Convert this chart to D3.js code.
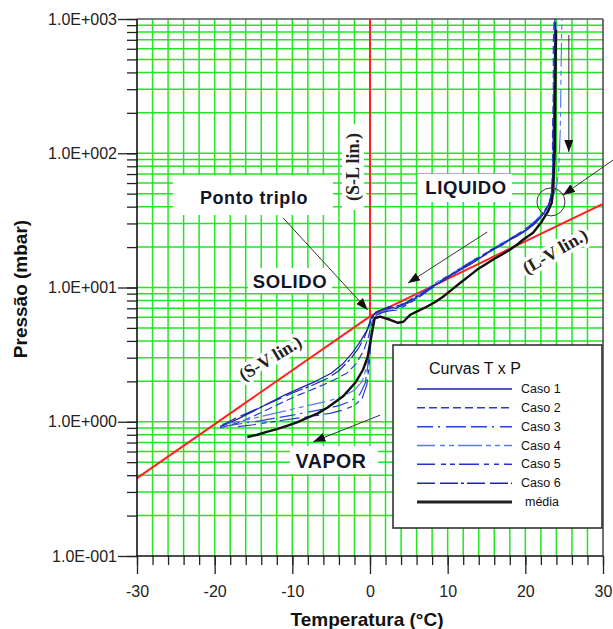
<!DOCTYPE html>
<html><head><meta charset="utf-8">
<script src="https://cdn.jsdelivr.net/npm/d3@7"></script>
<style>body{margin:0;background:#fff;overflow:hidden}</style>
</head><body><svg id="c" width="613" height="629"></svg>
<script>
// ---------- data ----------
const xMajor = [-30,-20,-10,0,10,20,30];
const xMajorLabels = ["-30","-20","-10","0","10","20","30"];
const yMajor = [0.1,1,10,100,1000];
const yMajorLabels = ["1.0E-001","1.0E+000","1.0E+001","1.0E+002","1.0E+003"];
const svLine = [[-30,0.38],[0,6.1]];
const lvLine = [[0,6.1],[30,42]];
const slLine = [[0,6.1],[0,1000]];

const caso1 = [[-19.0,0.93],[-17,1.05],[-15,1.2],[-13,1.38],[-11,1.58],[-9,1.78],[-7,2.0],[-5,2.3],[-3.5,2.7],[-2.2,3.3],[-1.2,4.0],[-0.4,4.8],[0.2,6.0],[0.8,6.6],[1.7,6.9],[2.5,7.2],[3.4,7.0],[4.2,7.5],[5.2,7.9],[6.2,8.6],[7.3,9.4],[8.4,10.5],[9.4,11.2],[10.5,12.4],[11.6,13.5],[12.7,14.6],[13.8,16.0],[14.8,17.6],[15.8,19.0],[17,20.8],[18,22.6],[19.2,24.6],[20.2,26.8],[21.2,29.8],[22.0,33.5],[22.7,38],[23.2,44],[23.5,55],[23.6,80],[23.6,150],[23.7,300],[23.8,600],[23.8,1000]];
const caso2 = [[-19.3,0.9],[-17,0.98],[-15,1.1],[-13,1.25],[-11,1.42],[-9,1.6],[-7,1.78],[-5,2.0],[-3,2.3],[-1.8,2.7],[-0.8,3.4],[-0.2,4.3],[0.3,5.6],[0.9,6.4],[2,6.7],[3,7.1],[4,7.3],[5,7.7],[6,8.5],[7,9.1],[8,10.2],[9,10.9],[10,12.0],[11,12.9],[12,14.0],[13,15.0],[14,16.4],[15,17.7],[16,19.4],[17,20.6],[18,22.8],[19,24.2],[20,26.6],[21,29.2],[21.8,32.5],[22.6,37],[23.1,43],[23.4,52],[23.5,75],[23.5,140],[23.6,300],[23.6,650],[23.7,1000]];
const caso3 = [[-18.5,0.93],[-16,0.98],[-14,1.02],[-12,1.07],[-10,1.12],[-8,1.18],[-6,1.24],[-4,1.32],[-2.5,1.42],[-1.3,1.6],[-0.6,1.95],[-0.2,2.8],[0.1,4.2],[0.4,5.6],[0.9,6.3],[1.8,6.6],[2.8,6.9],[3.8,7.2],[4.8,7.6],[5.8,8.2],[6.8,9.0],[7.8,9.8],[8.8,10.8],[9.8,11.8],[10.8,12.8],[11.8,13.9],[12.8,15.2],[13.8,16.4],[14.8,17.8],[15.8,19.3],[16.8,20.8],[17.8,22.4],[18.8,24.0],[19.8,26.2],[20.8,28.6],[21.7,32],[22.5,36.5],[23.1,42],[23.4,50],[23.6,70],[23.7,150],[23.8,400],[23.9,1000]];
const caso4 = [[-19,0.96],[-17,1.0],[-15,1.06],[-13,1.13],[-11,1.2],[-9,1.28],[-7,1.36],[-5,1.45],[-3.5,1.55],[-2,1.72],[-1,2.0],[-0.4,2.6],[0,3.8],[0.4,5.4],[1,6.4],[2,6.8],[3,7.0],[4,7.4],[5,8.0],[6,8.8],[7,9.4],[8,10.4],[9,11.4],[10,12.2],[11,13.2],[12,14.4],[13,15.6],[14,16.8],[15,18.2],[16,19.8],[17,21.4],[18,23.2],[19,25],[20,27.4],[21,30.4],[22,34.5],[22.9,40],[23.5,47],[24,56],[24.3,75],[24.5,150],[24.6,400],[24.7,1000]];
const caso5 = [[-17,0.92],[-15,0.95],[-13,0.99],[-11,1.03],[-9,1.07],[-7,1.11],[-5,1.16],[-3.5,1.22],[-2,1.32],[-1,1.5],[-0.4,1.9],[-0.1,2.7],[0.1,3.8],[0.3,5.0],[0.7,6.1],[1.5,6.5],[2.5,6.7],[3.5,6.8],[4.5,7.3],[5.5,7.9],[6.5,8.6],[7.5,9.5],[8.5,10.3],[9.5,11.4],[10.5,12.3],[11.5,13.4],[12.5,14.7],[13.5,15.8],[14.5,17.2],[15.5,18.6],[16.5,20.2],[17.5,21.8],[18.5,23.6],[19.5,25.6],[20.5,28],[21.4,31],[22.2,35],[22.9,41],[23.3,48],[23.5,65],[23.6,120],[23.7,350],[23.8,1000]];
const caso6 = [[-19.3,0.92],[-17.5,1.05],[-15.5,1.18],[-13.5,1.33],[-11.5,1.5],[-9.5,1.68],[-7.5,1.86],[-5.5,2.1],[-4,2.4],[-2.6,2.9],[-1.5,3.5],[-0.7,4.3],[0,5.4],[0.6,6.4],[1.5,6.8],[2.5,7.0],[3.5,7.3],[4.5,7.6],[5.5,8.3],[6.5,8.9],[7.5,9.8],[8.5,10.6],[9.5,11.6],[10.5,12.5],[11.5,13.7],[12.5,14.8],[13.5,16.2],[14.5,17.3],[15.5,18.9],[16.5,20.4],[17.5,22.0],[18.5,23.9],[19.5,25.9],[20.5,28.4],[21.4,31.4],[22.3,35.8],[23.0,41],[23.4,49],[23.6,68],[23.7,130],[23.8,350],[23.9,1000]];
const media = [[-15.8,0.77],[-14.5,0.8],[-13.3,0.84],[-12,0.88],[-10.7,0.93],[-9.4,0.99],[-8.1,1.07],[-6.8,1.15],[-5.5,1.27],[-3.5,1.54],[-1.9,1.95],[-0.9,2.44],[-0.3,3.05],[0.1,4.1],[0.4,5.1],[0.6,5.9],[1.3,6.06],[2.6,5.75],[3.6,5.46],[4.3,5.56],[5.2,6.27],[6.2,6.7],[7.3,7.19],[8.4,7.8],[9.4,8.54],[10.5,9.6],[11.6,10.8],[12.7,12.1],[13.8,13.6],[14.8,14.8],[15.8,16.1],[17,17.6],[18,19.1],[19,21],[19.7,22.7],[21,25.6],[22.1,30.9],[22.9,36.7],[23.4,42.8],[23.6,53.5],[23.7,79],[23.8,106],[23.85,250],[23.95,830]];

const seriesNames = ["Caso 1","Caso 2","Caso 3","Caso 4","Caso 5","Caso 6","média"];

// annotation arrows in data space [T, P]
const arrowFrom = [[-11.2,33],[15.1,25.9],[1.3,1.12],[25.6,760],[31.3,89]];
const arrowTo   = [[-0.3,6.8],[4.9,10.8],[-7.3,0.71],[25.6,102],[24.85,48.9]];
const circleAt = [23.3,43.4];

// ---------- drawing ----------
const svg = d3.select("#c");
const L=137,R=603,T=19,B=556;
const x = d3.scaleLinear().domain([-30,30]).range([L,R]);
const y = d3.scaleLog().domain([0.1,1000]).range([B,T]);
const sans = "'Liberation Sans', Arial, sans-serif";
const serif = "'Liberation Serif', 'Times New Roman', serif";

// grid
const gGrid = svg.append("g").attr("stroke","#22e622").attr("stroke-width",1.5);
const vGrid = x.ticks(30).filter(d=>d>-30 && d<30);
const hGrid = y.ticks().filter(d=>d>0.1 && d<1000);
gGrid.selectAll(".v").data(vGrid).join("line")
  .attr("x1",d=>x(d)).attr("x2",d=>x(d)).attr("y1",T).attr("y2",B);
gGrid.selectAll(".h").data(hGrid).join("line")
  .attr("y1",d=>y(d)).attr("y2",d=>y(d)).attr("x1",L).attr("x2",R);

// white label boxes (cover the grid)
const boxes = [[173,175,160,40],[248,268,84,25],[418,174,94,28],[290,446,88,28],[342,124,22,86]];
svg.append("g").selectAll("rect").data(boxes).join("rect")
  .attr("x",d=>d[0]).attr("y",d=>d[1]).attr("width",d=>d[2]).attr("height",d=>d[3]).attr("fill","#fff");

// rotated serif labels with halo
function rotLabel(txt, cx, cy, ang){
  svg.append("text").attr("transform",`translate(${cx},${cy}) rotate(${ang})`)
    .attr("text-anchor","middle").attr("dy","0.35em")
    .attr("font-family",serif).attr("font-weight","bold").attr("font-size",18)
    .attr("fill","#222").attr("stroke","#fff").attr("stroke-width",7)
    .attr("paint-order","stroke").attr("stroke-linejoin","round")
    .text(txt);
}
rotLabel("(S-L lin.)",353,167,-90);
rotLabel("(S-V lin.)",270,358,-31);
rotLabel("(L-V lin.)",555,251,-30);

// frame
svg.append("line").attr("x1",L).attr("x2",R).attr("y1",T).attr("y2",T).attr("stroke","#555").attr("stroke-width",1.5);
svg.append("line").attr("x1",R).attr("x2",R).attr("y1",T).attr("y2",B).attr("stroke","#444").attr("stroke-width",1.5);

// red lines
const line = d3.line().x(d=>x(d[0])).y(d=>y(d[1]));
[svLine,lvLine,slLine].forEach(d=>{
  svg.append("path").attr("d",line(d)).attr("fill","none").attr("stroke","#ff2020").attr("stroke-width",2);
});

// curves
const casos = [caso1,caso2,caso3,caso4,caso5,caso6];
const colors = ["#1c1cb4","#2a3ad8","#2244e2","#5a7af2","#2632cc","#1a2aaa"];
const dashes = [null,"8,4","16,5,2,6,20,5","18,5,5,4,5,4,24,4,5,4,5,4","18,6,5,4,5,4,20,5,5,5,5,5","18,5,18,3,3,3"];
casos.forEach((c,i)=>{
  svg.append("path").attr("d",line(c)).attr("fill","none")
    .attr("stroke",colors[i]).attr("stroke-width",1.2)
    .attr("stroke-dasharray",dashes[i]).attr("stroke-linejoin","round");
});
svg.append("path").attr("d",line(media)).attr("fill","none")
  .attr("stroke","#111").attr("stroke-width",2.4).attr("stroke-linejoin","round");

// axes
const gL = svg.append("g").attr("transform",`translate(${L},0)`);
gL.call(d3.axisLeft(y).tickValues(y.ticks()).tickSize(10).tickFormat(""));
gL.call(g=>g.select(".domain").remove());
const gL2 = svg.append("g").attr("transform",`translate(${L},0)`);
gL2.call(d3.axisLeft(y).tickValues(yMajor).tickSize(19).tickPadding(1).tickFormat((d,i)=>yMajorLabels[i]));
gL2.select(".domain").remove();
gL2.selectAll("text").attr("font-size",16).attr("font-family",sans).attr("fill","#222");
const gB = svg.append("g").attr("transform",`translate(0,${B})`);
gB.call(d3.axisBottom(x).tickValues(x.ticks(30)).tickSize(9).tickFormat(""));
gB.select(".domain").remove();
const gB2 = svg.append("g").attr("transform",`translate(0,${B})`);
gB2.call(d3.axisBottom(x).tickValues(xMajor).tickSize(18).tickPadding(12).tickFormat((d,i)=>xMajorLabels[i]));
gB2.select(".domain").remove();
gB2.selectAll("text").attr("font-size",16).attr("font-family",sans).attr("fill","#222");
svg.selectAll(".tick line").attr("stroke","#222").attr("stroke-width",1.3);
svg.append("line").attr("x1",L).attr("x2",L).attr("y1",T).attr("y2",B).attr("stroke","#111").attr("stroke-width",1.6);
svg.append("line").attr("x1",L).attr("x2",R).attr("y1",B).attr("y2",B).attr("stroke","#111").attr("stroke-width",1.6);

// axis titles
svg.append("text").attr("x",367).attr("y",626).attr("text-anchor","middle")
  .attr("font-family",sans).attr("font-weight","bold").attr("font-size",19).attr("fill","#111")
  .text("Temperatura (°C)");
svg.append("text").attr("transform","translate(27,289) rotate(-90)").attr("text-anchor","middle")
  .attr("font-family",sans).attr("font-weight","bold").attr("font-size",19).attr("fill","#111")
  .text("Pressão (mbar)");

// region labels
const labels = [["Ponto triplo",254,204,18],["SOLIDO",290,288,18.5],["LIQUIDO",466,194,18.5],["VAPOR",331,468,19.5]];
svg.append("g").selectAll("text").data(labels).join("text")
  .attr("x",d=>d[1]).attr("y",d=>d[2]).attr("text-anchor","middle")
  .attr("font-family",sans).attr("font-weight","bold").attr("font-size",d=>d[3])
  .attr("letter-spacing",0.6).attr("fill","#141428").text(d=>d[0]);

// arrows
svg.append("defs").append("marker").attr("id","ah").attr("markerUnits","userSpaceOnUse")
  .attr("markerWidth",13).attr("markerHeight",9).attr("refX",12).attr("refY",4.5).attr("orient","auto")
  .append("path").attr("d","M0,0 L12,4.5 L0,9 Z").attr("fill","#111");
arrowFrom.forEach((f,i)=>{
  const t = arrowTo[i];
  svg.append("line").attr("x1",x(f[0])).attr("y1",y(f[1])).attr("x2",x(t[0])).attr("y2",y(t[1]))
    .attr("stroke","#333").attr("stroke-width",1).attr("marker-end","url(#ah)");
});
svg.append("circle").attr("cx",x(circleAt[0])).attr("cy",y(circleAt[1])).attr("r",14)
  .attr("fill","none").attr("stroke","#333").attr("stroke-width",1);

// legend
const lg = svg.append("g");
lg.append("rect").attr("x",393).attr("y",345).attr("width",209).attr("height",183)
  .attr("fill","#fff").attr("stroke","#333").attr("stroke-width",1.6);
lg.append("text").attr("x",429).attr("y",374).attr("font-family",sans).attr("font-size",16).attr("fill","#111").text("Curvas T x P");
const rowY = d3.scaleLinear().domain([0,6]).range([389,502]);
seriesNames.forEach((n,i)=>{
  const yy = rowY(i);
  lg.append("line").attr("x1",417).attr("x2",512).attr("y1",yy).attr("y2",yy)
    .attr("stroke", i<6 ? colors[i] : "#222").attr("stroke-width", i<6?1.5:3)
    .attr("stroke-dasharray", i<6 ? dashes[i] : null);
  lg.append("text").attr("x", i<6?521:525).attr("y",yy+4).attr("font-family",sans).attr("font-size",12.5)
    .attr("fill","#111").text(n);
});
</script>
</body></html>
